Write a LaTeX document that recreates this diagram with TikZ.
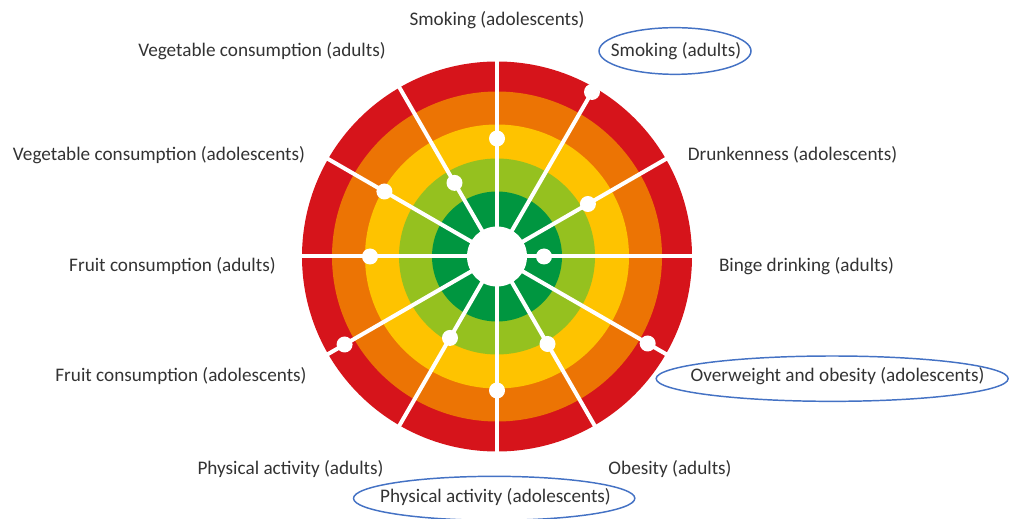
\documentclass[tikz,border=0pt]{standalone}
\usepackage{fontspec}
\setmainfont{Carlito}
\usetikzlibrary{shapes.geometric}

\definecolor{ringred}{HTML}{D6141B}
\definecolor{ringorange}{HTML}{EC7404}
\definecolor{ringyellow}{HTML}{FEC300}
\definecolor{ringlight}{HTML}{95C11F}
\definecolor{ringdark}{HTML}{009640}
\definecolor{markblue}{HTML}{4472C4}
\definecolor{txtgrey}{HTML}{333333}

\begin{document}
\begin{tikzpicture}[x=0.75pt,y=0.75pt,
                    lbl/.style={text=txtgrey,font=\fontsize{14.4}{17}\selectfont,inner sep=0pt},
                    dot/.style={circle,fill=white,minimum size=12pt,inner sep=0pt},
                    marked/.style={draw=markblue,line width=1.1pt}]

  \useasboundingbox (0,0) rectangle (1010,518);
  \coordinate (O) at (497,261.5);

  % rings, outside in
  \foreach \r/\c in {195/ringred,165/ringorange,132/ringyellow,98/ringlight,65/ringdark,30/white}
    \fill[\c] (O) circle (\r);

  % spokes
  \foreach \a in {0,30,...,330}
    \draw[white,line width=3pt] (O) -- ++(\a:197);

  % scores
  \foreach \a/\r [count=\i] in {90/118,60/190,30/105,0/47,-30/174,-60/101,
                                -90/134,-120/94,-150/176,180/127,150/130,120/85}
    \node[dot] (d\i) at ([shift={(\a:\r)}]O) {};

  % labels
  \node[lbl] (smokeado) at (497,498)   {Smoking (adolescents)};
  \node[lbl] (smokeadu) at (676,467)   {Smoking (adults)};
  \node[lbl] (drunk)    at (792.5,363) {Drunkenness (adolescents)};
  \node[lbl] (binge)    at (806.5,252) {Binge drinking (adults)};
  \node[lbl] (overw)    at (837.5,142) {Overweight and obesity (adolescents)};
  \node[lbl] (obese)    at (670,49)    {Obesity (adults)};
  \node[lbl] (physado)  at (495.5,21)  {Physical activity (adolescents)};
  \node[lbl] (physadu)  at (290.5,49)  {Physical activity (adults)};
  \node[lbl] (fruitado) at (181,142)   {Fruit consumption (adolescents)};
  \node[lbl] (fruitadu) at (172.5,252) {Fruit consumption (adults)};
  \node[lbl] (vegado)   at (159,363)   {Vegetable consumption (adolescents)};
  \node[lbl] (vegadu)   at (262,467)   {Vegetable consumption (adults)};

  % highlighted indicators
  \draw[marked] ([xshift=-0.75pt]smokeadu.center) ellipse [x radius=57pt,y radius=17.5pt];
  \draw[marked] ([xshift=-4pt,yshift=-2pt]overw.center) ellipse [x radius=132pt,y radius=17pt];
  \draw[marked] ([xshift=-1pt,yshift=-1pt]physado.center) ellipse [x radius=105.5pt,y radius=16.5pt];
\end{tikzpicture}
\end{document}
